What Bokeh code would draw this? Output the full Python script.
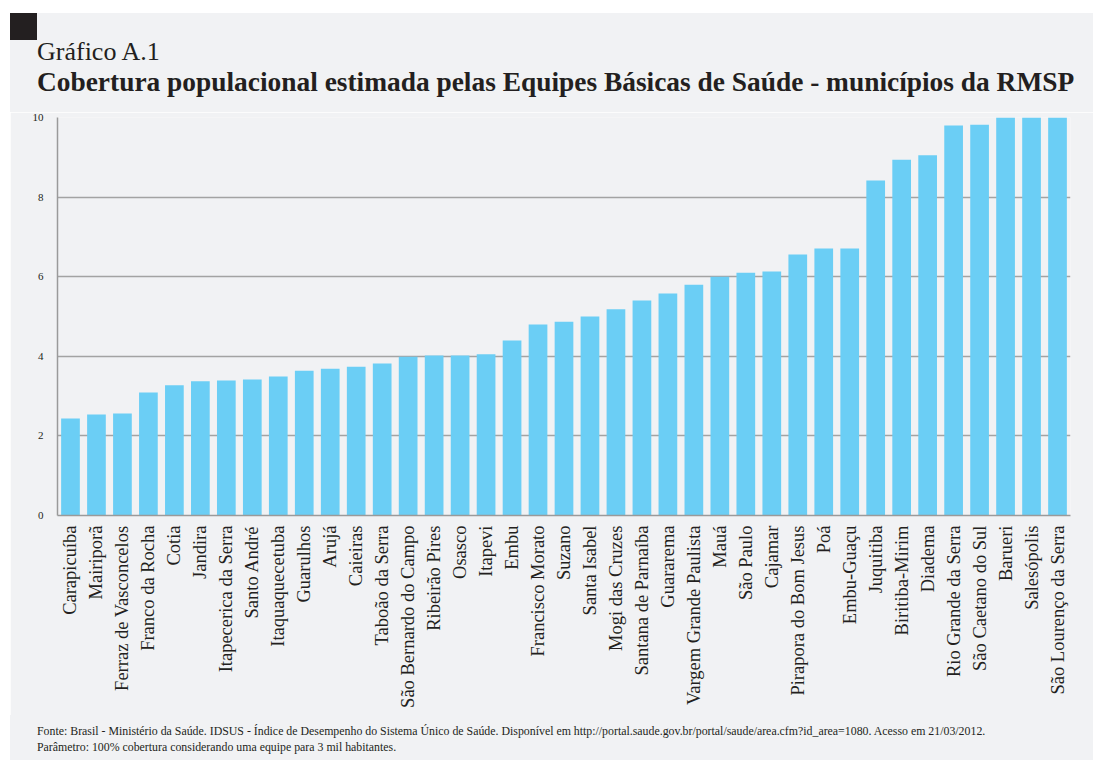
from bokeh.plotting import figure
from bokeh.models import FactorRange, Range1d, FixedTicker, Div
from bokeh.layouts import column
from bokeh.embed import file_html
from bokeh.resources import INLINE
import math

municipios = [
    "Carapicuíba", "Mairiporã", "Ferraz de Vasconcelos", "Franco da Rocha", "Cotia",
    "Jandira", "Itapecerica da Serra", "Santo André", "Itaquaquecetuba", "Guarulhos",
    "Arujá", "Caieiras", "Taboão da Serra", "São Bernardo do Campo", "Ribeirão Pires",
    "Osasco", "Itapevi", "Embu", "Francisco Morato", "Suzano", "Santa Isabel",
    "Mogi das Cruzes", "Santana de Parnaíba", "Guararema", "Vargem Grande Paulista",
    "Mauá", "São Paulo", "Cajamar", "Pirapora do Bom Jesus", "Poá", "Embu-Guaçu",
    "Juquitiba", "Biritiba-Mirim", "Diadema", "Rio Grande da Serra",
    "São Caetano do Sul", "Barueri", "Salesópolis", "São Lourenço da Serra",
]
cobertura = [
    2.44, 2.54, 2.56, 3.09, 3.27,
    3.37, 3.39, 3.42, 3.49, 3.64,
    3.69, 3.74, 3.82, 3.99, 4.02,
    4.02, 4.05, 4.40, 4.80, 4.87, 5.00,
    5.18, 5.40, 5.58, 5.80,
    6.00, 6.10, 6.13, 6.56, 6.71, 6.71,
    8.42, 8.94, 9.05, 9.80,
    9.82, 10.0, 10.0, 10.0,
]
y_ticks = [0, 2, 4, 6, 8, 10]

titulo_1 = "Gráfico A.1"
titulo_2 = "Cobertura populacional estimada pelas Equipes Básicas de Saúde - municípios da RMSP"
fonte_1 = ("Fonte: Brasil - Ministério da Saúde. IDSUS - Índice de Desempenho do Sistema Único de Saúde. "
           "Disponível em http://portal.saude.gov.br/portal/saude/area.cfm?id_area=1080. Acesso em 21/03/2012.")
fonte_2 = "Parâmetro: 100% cobertura considerando uma equipe para 3 mil habitantes."

BG = "#f1f2f4"
BAR = "#6bcef5"
TXT = "#231f20"
SERIF = "Liberation Serif"
W = 1083

header_html = f"""
<div style="position:relative;width:{W}px;height:99px;background:{BG};font-family:'{SERIF}';color:{TXT};">
  <div style="position:absolute;left:0;top:0;width:27px;height:27px;background:{TXT};"></div>
  <div style="position:absolute;left:27px;top:26px;font-size:26px;line-height:1;white-space:nowrap;">{titulo_1}</div>
  <div style="position:absolute;left:27px;top:56px;font-size:27.4px;line-height:1;font-weight:bold;white-space:nowrap;">{titulo_2}</div>
</div>
"""
footer_html = f"""
<div style="position:relative;width:{W}px;height:45px;background:{BG};font-family:'{SERIF}';color:{TXT};">
  <div style="position:absolute;left:27px;top:11px;font-size:11.85px;line-height:1;white-space:nowrap;">{fonte_1}</div>
  <div style="position:absolute;left:27px;top:27px;font-size:11.85px;line-height:1;white-space:nowrap;">{fonte_2}</div>
</div>
"""

header = Div(text=header_html, width=W, height=99, margin=(13, 0, 0, 10))
footer = Div(text=footer_html, width=W, height=45, margin=(0, 0, 0, 10))

p = figure(
    width=W, height=603,
    x_range=FactorRange(*municipios, range_padding=0),
    y_range=Range1d(0, 10),
    output_backend="svg", toolbar_location=None,
    min_border_left=47, min_border_right=23, min_border_top=5, min_border_bottom=200,
    margin=(0, 0, 0, 10),
)
p.background_fill_color = BG
p.border_fill_color = BG
p.outline_line_color = None

p.vbar(x=municipios, top=cobertura, width=0.72, color=BAR, line_color=None)

p.xgrid.grid_line_color = None
p.ygrid.grid_line_color = "#a3a3a3"
p.ygrid.grid_line_width = 1.5
p.yaxis.ticker = FixedTicker(ticks=y_ticks)

for ax in (p.xaxis[0], p.yaxis[0]):
    ax.axis_line_color = "#9a9a9a"
    ax.axis_line_width = 1.5
    ax.major_tick_line_color = None
    ax.minor_tick_line_color = None
    ax.major_label_text_font = SERIF
    ax.major_label_text_color = TXT

p.yaxis.major_label_text_font_size = "11px"
p.yaxis.major_label_standoff = 8
p.xaxis.major_label_text_font_size = "18.5px"
p.xaxis.major_label_orientation = math.pi / 2
p.xaxis.major_label_standoff = 4

layout = column(header, p, footer, spacing=0)
open("out.html", "w").write(file_html(layout, INLINE))
